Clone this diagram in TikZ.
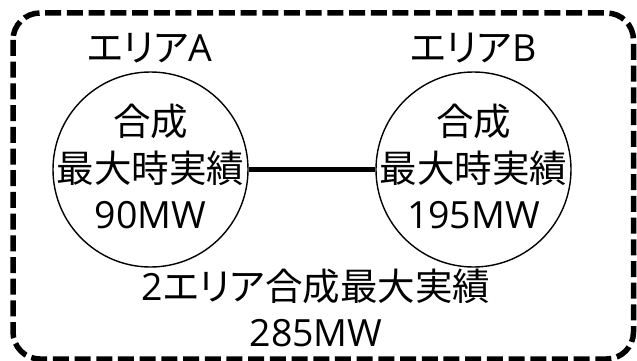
\documentclass[tikz,border=0pt]{standalone}
\usepackage{fontspec}
\newfontfamily\jpfont[RawFeature=+palt]{Noto Sans CJK JP}
\newfontfamily\latfont{Open Sans}
\newcommand{\lat}[1]{{\latfont #1}}
\begin{document}
\begin{tikzpicture}[x=1pt,y=-1pt,
  txt/.style={font=\jpfont\fontsize{37.5}{46.5}\selectfont, align=center, inner sep=0pt},
  area/.style={circle, draw, line width=1.4pt, minimum size=195pt, inner sep=0pt},
  frame/.style={line width=5.5pt, dash pattern=on 16pt off 5.7pt, rounded corners=27pt}]
\useasboundingbox (0,0) rectangle (637,361);
\draw[frame] (13,13) rectangle (633.5,359);
\node[area] (A) at (150.5,169.5) {};
\node[area] (B) at (473.5,169.5) {};
\draw[line width=4.5pt] (A) -- (B);
\node[txt] (At) at (150.5,166.5) {合成\\最大時実績\\\lat{90MW}};
\node[txt] (Bt) at (473.5,166.5) {合成\\最大時実績\\\lat{195MW}};
\node[txt] (LA) at (149.5,48) {エリア\lat{A}};
\node[txt] (LB) at (473.5,48) {エリア\lat{B}};
\node[txt] (T) at (316,308) {\lat{2}エリア合成最大実績\\\lat{285MW}};
\end{tikzpicture}
\end{document}
